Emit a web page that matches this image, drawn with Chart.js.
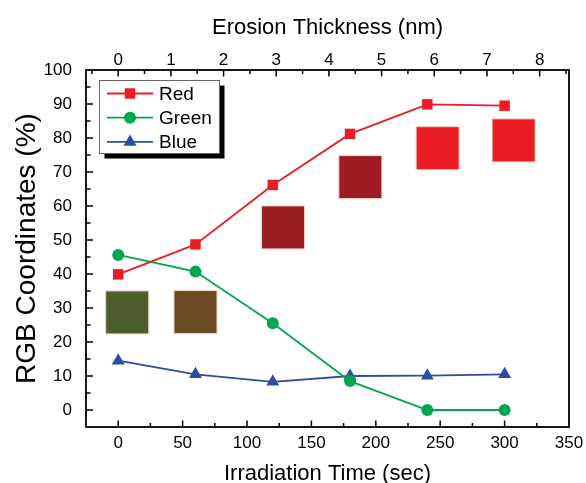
<!DOCTYPE html>
<html>
<head>
<meta charset="utf-8">
<script src="https://cdn.jsdelivr.net/npm/chart.js@4/dist/chart.umd.min.js"></script>
<style>
  html, body { margin: 0; padding: 0; background: #fff; }
</style>
</head>
<body>
<canvas id="myChart" width="586" height="483"></canvas>
<script>
// Irradiation time (sec)
let times = [0, 60, 120, 180, 240, 300];

// RGB coordinates (%)
let red   = [39.9, 48.7, 66.2, 81.2, 89.9, 89.5];
let green = [45.6, 40.7, 25.5, 8.5, 0, 0];
let blue  = [14.5, 10.5, 8.3, 10.0, 10.1, 10.5];

// film colour swatches after each irradiation step
let swatchX      = [7, 60, 128, 188, 248, 307];
let swatchY      = [28.7, 28.8, 53.7, 68.5, 77.0, 79.3];
let swatchColors = ['#4b5e2b', '#6c4a22', '#9a1d22', '#9c1a20', '#ec1c24', '#ec1c24'];

// axis ticks
let timeTicks  = [0, 50, 100, 150, 200, 250, 300, 350];
let depthTicks = [0, 1, 2, 3, 4, 5, 6, 7, 8];
let rgbTicks   = [0, 10, 20, 30, 40, 50, 60, 70, 80, 90, 100];

// erosion rate: seconds per nm
let secPerNm = 40.9;

const FONT = '"Liberation Sans", Arial, sans-serif';

const pts = (ys) => times.map((t, i) => ({ x: t, y: ys[i] }));
const setTicks = (list) => (scale) => { scale.ticks = list.map(v => ({ value: v })); };
// fixed band height, no label overhang padding
const fixHeight = (h) => (scale) => {
    scale.height = h;
    scale.paddingLeft = 0;
    scale.paddingRight = 0;
};

// colour swatches behind the curves
const swatches = {
    id: 'swatches',
    beforeDatasetsDraw(chart) {
        const { ctx, scales } = chart;
        const half = 21.5;
        ctx.save();
        ctx.strokeStyle = '#f3d2c8';
        ctx.lineWidth = 1;
        swatchX.forEach((t, i) => {
            const cx = scales.x.getPixelForValue(t);
            const cy = scales.y.getPixelForValue(swatchY[i]);
            ctx.fillStyle = swatchColors[i];
            ctx.fillRect(cx - half, cy - half, 2 * half, 2 * half);
            ctx.strokeRect(cx - half, cy - half, 2 * half, 2 * half);
        });
        ctx.restore();
    }
};

// inward tick marks and the plot frame
const frameTicks = {
    id: 'frameTicks',
    afterDraw(chart) {
        const { ctx, chartArea: a, scales } = chart;
        ctx.save();
        ctx.strokeStyle = '#000';
        ctx.lineWidth = 1.5;
        ctx.beginPath();
        for (let v = -25; v <= 350; v += 25) {
            const px = scales.x.getPixelForValue(v);
            if (px <= a.left + 1 || px >= a.right - 1) continue;
            const len = v % 50 === 0 ? 6.5 : 4;
            ctx.moveTo(px, a.bottom); ctx.lineTo(px, a.bottom - len);
        }
        for (let v = -0.5; v <= 8.5; v += 0.5) {
            const px = scales.x2.getPixelForValue(v);
            if (px <= a.left + 1 || px >= a.right - 1) continue;
            const len = v % 1 === 0 ? 6.5 : 4;
            ctx.moveTo(px, a.top); ctx.lineTo(px, a.top + len);
        }
        for (let v = -5; v <= 100; v += 5) {
            const py = scales.y.getPixelForValue(v);
            if (py <= a.top + 1 || py >= a.bottom - 1) continue;
            const len = v % 10 === 0 ? 7 : 4.5;
            ctx.moveTo(a.left, py); ctx.lineTo(a.left + len, py);
        }
        ctx.stroke();
        ctx.lineWidth = 1.8;
        ctx.strokeRect(a.left, a.top, a.right - a.left, a.bottom - a.top);
        ctx.restore();
    }
};

// boxed legend with drop shadow
const boxLegend = {
    id: 'boxLegend',
    afterDraw(chart) {
        const ctx = chart.ctx;
        const x = 99.5, y = 80.5, w = 120, h = 73;
        ctx.save();
        ctx.fillStyle = '#000';
        ctx.fillRect(x + 5, y + 5, w, h);
        ctx.fillStyle = '#fff';
        ctx.fillRect(x, y, w, h);
        ctx.strokeStyle = '#666';
        ctx.lineWidth = 1;
        ctx.strokeRect(x, y, w, h);
        chart.data.datasets.forEach((ds, i) => {
            const cy = 93.5 + i * 24.2;
            ctx.strokeStyle = ds.borderColor;
            ctx.lineWidth = ds.borderWidth;
            ctx.beginPath();
            ctx.moveTo(107, cy);
            ctx.lineTo(153, cy);
            ctx.stroke();
            ctx.fillStyle = ds.pointBackgroundColor;
            Chart.helpers.drawPoint(ctx, {
                pointStyle: ds.pointStyle, radius: ds.pointRadius, rotation: 0, borderWidth: 0
            }, 130, cy);
            ctx.fillStyle = '#000';
            ctx.font = '19px ' + FONT;
            ctx.textBaseline = 'middle';
            ctx.textAlign = 'left';
            ctx.fillText(ds.label, 159, cy + 1);
        });
        ctx.restore();
    }
};

const series = (label, ys, color, style, r) => ({
    label: label,
    data: pts(ys),
    borderColor: color,
    backgroundColor: color,
    pointBackgroundColor: color,
    pointBorderColor: color,
    pointBorderWidth: 0,
    borderWidth: 1.8,
    pointStyle: style,
    pointRadius: r,
    fill: false,
    tension: 0
});

let ctx = document.getElementById('myChart').getContext('2d');
let myChart = new Chart(ctx, {
    type: 'line',
    data: {
        datasets: [
            series('Red', red, '#ed1c24', 'rect', 7.4),
            series('Green', green, '#00a651', 'circle', 6),
            series('Blue', blue, '#2b4ea2', 'triangle', 7.5)
        ]
    },
    options: {
        responsive: false,
        animation: false,
        devicePixelRatio: 1,
        events: [],
        layout: { padding: { left: 0, top: 0, right: 17, bottom: 0 } },
        plugins: { legend: { display: false }, tooltip: { enabled: false } },
        scales: {
            x: {
                type: 'linear',
                position: 'bottom',
                min: -25,
                max: 350,
                afterBuildTicks: setTicks(timeTicks),
                afterFit: fixHeight(56),
                grid: { display: false },
                border: { display: false },
                ticks: { autoSkip: false, maxRotation: 0, padding: -2, color: '#000', font: { family: FONT, size: 17 } },
                title: {
                    display: true, text: 'Irradiation Time (sec)', color: '#000',
                    font: { family: FONT, size: 22, lineHeight: 1 }, padding: { top: 0, bottom: -2 }
                }
            },
            x2: {
                type: 'linear',
                position: 'top',
                min: -25 / secPerNm,
                max: 350 / secPerNm,
                afterBuildTicks: setTicks(depthTicks),
                afterFit: fixHeight(70),
                grid: { display: false },
                border: { display: false },
                ticks: { autoSkip: false, maxRotation: 0, padding: -9, color: '#000', font: { family: FONT, size: 17 } },
                title: {
                    display: true, text: 'Erosion Thickness (nm)', color: '#000',
                    font: { family: FONT, size: 22, lineHeight: 1 }, padding: { top: 17, bottom: 0 }
                }
            },
            y: {
                min: -5,
                max: 100,
                afterBuildTicks: setTicks(rgbTicks),
                afterFit: (s) => { s.width = 86; s.paddingTop = 0; s.paddingBottom = 0; },
                grid: { display: false },
                border: { display: false },
                ticks: { autoSkip: false, padding: 6, color: '#000', font: { family: FONT, size: 17 } },
                title: {
                    display: true, text: 'RGB Coordinates (%)', color: '#000',
                    font: { family: FONT, size: 28, lineHeight: 1 }, padding: { top: 13, bottom: 0 }
                }
            }
        }
    },
    plugins: [swatches, frameTicks, boxLegend]
});
</script>
</body>
</html>
